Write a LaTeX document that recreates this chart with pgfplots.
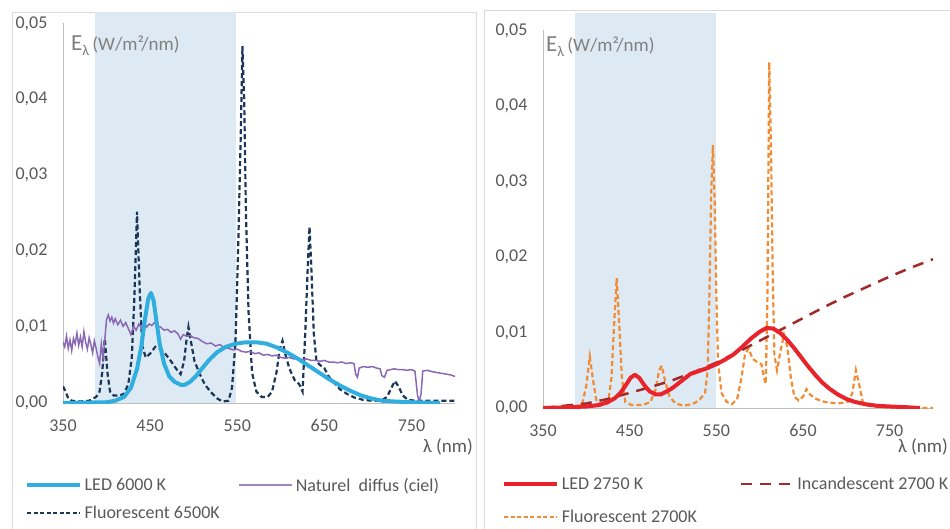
\documentclass[border=0pt]{standalone}
\usepackage{fontspec}
\setmainfont{Carlito}
\usepackage{pgfplots}
\pgfplotsset{compat=1.18}

\definecolor{shade}{HTML}{DDEAF4}
\definecolor{framegray}{HTML}{D9D9D9}
\definecolor{axisgray}{HTML}{BFBFBF}
\definecolor{tickgray}{HTML}{595959}
\definecolor{labgray}{HTML}{808080}
\definecolor{ledcyan}{HTML}{30AEE0}
\definecolor{natpurple}{HTML}{8A68B4}
\definecolor{fluonavy}{HTML}{1B3658}
\definecolor{ledred}{HTML}{E8232B}
\definecolor{incdark}{HTML}{A02A2A}
\definecolor{fluoorange}{HTML}{F28C34}

\pgfplotsset{
  spec/.style={
    scale only axis,
    xmin=350, xmax=800, ymin=0,
    axis line style={draw=none},
    major tick length=0pt,
    xtick={350,450,550,650,750},
    ytick={0,0.01,0.02,0.03,0.04,0.05},
    scaled y ticks=false,
    tick label style={font=\fontsize{18}{18}\selectfont, text=tickgray,
      /pgf/number format/assume math mode=true},
    xticklabel style={yshift=-13pt},
    yticklabel style={xshift=-12pt, /pgf/number format/fixed, /pgf/number format/fixed zerofill,
      /pgf/number format/precision=2, /pgf/number format/use comma},
    legend image code/.code={\draw[##1] (0pt,0pt) -- (53pt,0pt);},
    legend style={draw=none, fill=none, inner sep=0pt, anchor=north west,
      legend columns=2, font=\fontsize{18}{18}\selectfont, text=tickgray,
      cells={anchor=west}, nodes={inner sep=2.5pt}},
  },
}

% ---- left panel data
\pgfplotstableread{
x y
350 0
400 0.0001
410 0.0003
420 0.0008
428 0.0020
435 0.0045
440 0.0075
444 0.0110
448 0.0138
451 0.0145
454 0.0135
457 0.0110
461 0.0078
466 0.0052
472 0.0035
478 0.0028
485 0.0024
490 0.0024
496 0.0028
503 0.0036
510 0.0046
518 0.0057
527 0.0067
537 0.0074
548 0.0078
560 0.0080
572 0.0080
584 0.0078
596 0.0073
608 0.0066
620 0.0058
632 0.0049
644 0.0040
656 0.0031
668 0.0023
680 0.0016
692 0.0010
704 0.0006
716 0.0003
730 0.0002
750 0.0001
783 0
}\ledsix

\pgfplotstableread{
x y
350 0.0080
352 0.0074
354 0.0088
356 0.0072
358 0.0083
360 0.0069
362 0.0085
364 0.0078
366 0.0092
368 0.0076
370 0.0087
372 0.0074
374 0.0094
376 0.0080
378 0.0071
380 0.0086
382 0.0077
384 0.0066
386 0.0082
388 0.0072
390 0.0061
392 0.0052
394 0.0078
396 0.0059
398 0.0084
400 0.0110
402 0.0116
404 0.0108
406 0.0113
408 0.0105
410 0.0111
413 0.0103
416 0.0109
419 0.0101
422 0.0106
425 0.0098
428 0.0090
431 0.0101
434 0.0096
437 0.0104
440 0.0099
443 0.0106
446 0.0100
449 0.0104
452 0.0102
455 0.0106
458 0.0101
462 0.0100
466 0.0096
470 0.0097
474 0.0093
478 0.0095
482 0.0091
485 0.0084
488 0.0090
492 0.0088
496 0.0089
500 0.0086
505 0.0085
510 0.0081
515 0.0078
520 0.0079
525 0.0075
530 0.0077
535 0.0073
540 0.0072
545 0.0070
550 0.0071
555 0.0068
560 0.0067
565 0.0068
570 0.0065
575 0.0066
580 0.0063
585 0.0064
590 0.0062
595 0.0063
600 0.0060
605 0.0059
610 0.0060
615 0.0058
620 0.0059
625 0.0057
630 0.0058
635 0.0056
640 0.0056
645 0.0055
650 0.0056
655 0.0054
660 0.0054
665 0.0053
670 0.0054
675 0.0052
680 0.0053
684 0.0052
686 0.0038
688 0.0034
690 0.0046
695 0.0048
700 0.0047
705 0.0048
710 0.0046
714 0.0045
716 0.0036
719 0.0034
722 0.0043
726 0.0044
730 0.0045
735 0.0044
740 0.0044
745 0.0043
750 0.0044
754 0.0042
757 0.0010
759 0.0002
761 0.0012
763 0.0042
768 0.0043
775 0.0041
780 0.0040
785 0.0039
790 0.0038
795 0.0037
800 0.0035
}\naturel

\pgfplotstableread{
x y
350 0.0022
353 0.0015
356 0.0006
360 0.0003
370 0.0002
380 0.0003
388 0.0008
392 0.0015
395 0.0040
398 0.0085
401 0.0040
404 0.0015
408 0.0010
415 0.0010
420 0.0012
425 0.0025
429 0.0060
432 0.0140
435 0.0252
438 0.0150
441 0.0075
445 0.0060
450 0.0065
456 0.0074
462 0.0071
468 0.0064
474 0.0055
480 0.0045
485 0.0038
489 0.0055
492 0.0085
494 0.0100
497 0.0080
501 0.0055
507 0.0038
513 0.0024
520 0.0014
527 0.0006
533 0.0002
540 0.0003
544 0.0020
548 0.0080
551 0.0200
554 0.0350
556 0.0470
558 0.0400
560 0.0250
563 0.0120
567 0.0040
572 0.0015
578 0.0008
585 0.0008
590 0.0015
595 0.0040
599 0.0072
602 0.0082
605 0.0065
610 0.0045
616 0.0030
621 0.0025
625 0.0015
628 0.0090
631 0.0180
633 0.0232
635 0.0180
638 0.0090
641 0.0055
645 0.0050
650 0.0046
655 0.0035
660 0.0028
668 0.0018
676 0.0012
685 0.0007
695 0.0004
705 0.0003
715 0.0003
722 0.0008
727 0.0020
731 0.0029
735 0.0022
740 0.0010
746 0.0004
755 0.0003
770 0.0003
785 0.0003
800 0.0003
}\fluosix

% ---- right panel data
\pgfplotstableread{
x y
350 0
380 0.0001
400 0.0002
415 0.0004
425 0.0008
433 0.0013
440 0.0021
446 0.0031
451 0.0040
456 0.0044
461 0.0040
467 0.0030
473 0.0022
480 0.0018
486 0.0018
493 0.0022
500 0.0027
510 0.0036
520 0.0045
530 0.0049
540 0.0053
550 0.0058
560 0.0064
570 0.0071
580 0.0081
590 0.0092
600 0.0101
608 0.0106
616 0.0105
624 0.0099
632 0.0090
640 0.0079
648 0.0067
656 0.0055
664 0.0044
672 0.0034
680 0.0026
690 0.0018
700 0.0012
710 0.0008
722 0.0005
735 0.0003
750 0.0002
770 0.0001
785 0
}\ledtwo

\pgfplotstableread{
x y
350 0
375 0.0003
400 0.0006
425 0.0012
450 0.0020
475 0.0028
500 0.0037
525 0.0048
550 0.0060
575 0.0074
600 0.0089
625 0.0104
650 0.0119
675 0.0134
700 0.0148
725 0.0161
750 0.0174
775 0.0186
800 0.0197
}\incand

\pgfplotstableread{
x y
350 0
380 0.0001
395 0.0004
400 0.0030
404 0.0068
408 0.0035
412 0.0008
418 0.0004
425 0.0006
429 0.0040
432 0.0110
435 0.0172
438 0.0110
441 0.0040
445 0.0008
452 0.0004
465 0.0004
474 0.0008
480 0.0025
484 0.0050
487 0.0056
491 0.0035
496 0.0015
503 0.0006
512 0.0003
522 0.0005
530 0.0010
537 0.0020
540 0.0050
542 0.0150
544 0.0280
546 0.0348
548 0.0280
550 0.0150
552 0.0060
556 0.0020
562 0.0008
568 0.0005
574 0.0012
579 0.0040
583 0.0070
587 0.0079
592 0.0065
598 0.0060
602 0.0058
605 0.0040
607 0.0032
609 0.0150
611 0.0458
613 0.0350
615 0.0180
617 0.0070
620 0.0050
624 0.0075
628 0.0097
632 0.0080
636 0.0040
640 0.0015
645 0.0010
650 0.0015
654 0.0025
658 0.0018
665 0.0012
675 0.0008
690 0.0006
702 0.0008
707 0.0020
711 0.0050
715 0.0030
719 0.0008
725 0.0003
740 0.0001
770 0
800 0
}\fluotwo

\begin{document}
\begin{tikzpicture}
\useasboundingbox (0pt,0pt) rectangle (950pt,-529pt);
\draw[framegray, line width=1pt] (12pt,-13pt) rectangle (476pt,-560pt);
\draw[framegray, line width=1pt] (484pt,-11pt) rectangle (980pt,-560pt);

% left
\begin{axis}[spec, at={(63pt,-403pt)}, anchor=south west,
  width=392pt, height=391pt, ymax=0.0515,
  legend style={at={(-0.097,-0.185)}, row sep=8pt,
    /tikz/every even column/.append style={column sep=16pt}}]
\addplot[fill=shade, draw=none, forget plot] coordinates {(387,0) (387,0.0515) (549,0.0515) (549,0)} -- cycle;
\draw[axisgray, line width=1pt] (axis cs:350,0) -- (axis cs:350,0.05);
\draw[axisgray, line width=1pt] (axis cs:350,0) -- (axis cs:800,0);
\addlegendimage{ledcyan, line width=4pt}
\addlegendentry{LED 6000 K}
\addlegendimage{natpurple!80, line width=2pt}
\addlegendentry{Naturel\ \ diffus (ciel)}
\addlegendimage{fluonavy, line width=2.2pt, dash pattern=on 4pt off 2.5pt}
\addlegendentry{Fluorescent 6500K}
\addplot[fluonavy, line width=2.2pt, dash pattern=on 5pt off 3pt, forget plot] table {\fluosix};
\addplot[natpurple, line width=1.5pt, forget plot] table {\naturel};
\addplot[ledcyan, line width=4pt, line join=round, forget plot] table {\ledsix};
\end{axis}

% right
\begin{axis}[spec, at={(543pt,-408pt)}, anchor=south west,
  width=390pt, height=395pt, ymax=0.0523,
  legend style={at={(-0.105,-0.168)}, row sep=14pt,
    /tikz/every even column/.append style={column sep=40pt}}]
\addplot[fill=shade, draw=none, forget plot] coordinates {(387,0) (387,0.0523) (550,0.0523) (550,0)} -- cycle;
\draw[axisgray, line width=1pt] (axis cs:350,0) -- (axis cs:350,0.05);
\draw[axisgray, line width=1pt] (axis cs:350,0) -- (axis cs:800,0);
\addlegendimage{ledred, line width=4pt}
\addlegendentry{LED 2750 K}
\addlegendimage{incdark, line width=2.5pt, dash pattern=on 11pt off 8pt}
\addlegendentry{Incandescent 2700 K}
\addlegendimage{fluoorange, line width=2.2pt, dash pattern=on 4pt off 2.5pt}
\addlegendentry{Fluorescent 2700K}
\addplot[fluoorange, line width=2.2pt, dash pattern=on 5pt off 3pt, forget plot] table {\fluotwo};
\addplot[incdark, line width=2.5pt, dash pattern=on 11pt off 8pt, forget plot] table {\incand};
\addplot[ledred, line width=4pt, line join=round, forget plot] table {\ledtwo};
\end{axis}

% axis titles
\node[anchor=base west, inner sep=0pt, text=labgray] at (71pt,-51pt)
  {\fontsize{23}{23}\selectfont E\raisebox{-5pt}{\fontsize{15}{15}\selectfont λ}\hspace{3pt}\fontsize{19}{19}\selectfont(W/m²/nm)};
\node[anchor=base west, inner sep=0pt, text=labgray] at (546pt,-52pt)
  {\fontsize{23}{23}\selectfont E\raisebox{-5pt}{\fontsize{15}{15}\selectfont λ}\hspace{3pt}\fontsize{19}{19}\selectfont(W/m²/nm)};
\node[anchor=base east, inner sep=0pt, text=tickgray] at (473pt,-452pt)
  {\fontsize{19}{19}\selectfont λ (nm)};
\node[anchor=base east, inner sep=0pt, text=tickgray] at (948pt,-452pt)
  {\fontsize{19}{19}\selectfont λ (nm)};
\end{tikzpicture}
\end{document}
